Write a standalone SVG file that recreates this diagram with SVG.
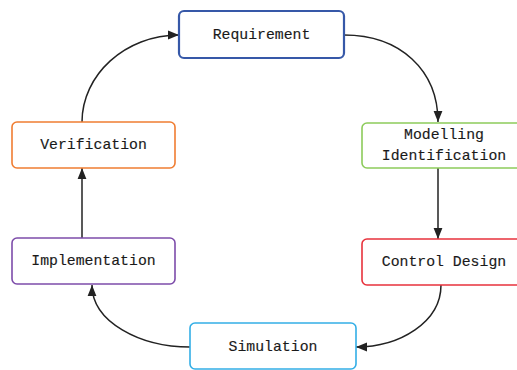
<svg xmlns="http://www.w3.org/2000/svg" width="517" height="370" viewBox="0 0 517 370">
<defs>
<style>
.box{fill:#fff;stroke-width:1.6}
.lbl{font-family:"Liberation Mono","DejaVu Sans Mono",monospace;font-size:14.8px;fill:#1a1a1a;stroke:#1a1a1a;stroke-width:0.15;text-anchor:middle;dominant-baseline:central}
.edge{fill:none;stroke:#222;stroke-width:1.5}
</style>
<marker id="ah" viewBox="0 0 10 10" refX="10" refY="5" markerWidth="11" markerHeight="11" markerUnits="userSpaceOnUse" orient="auto">
<path d="M0,1 L10,5 L0,9 Z" fill="#222"/>
</marker>
</defs>
<rect width="517" height="370" fill="#fff"/>
<g id="connectors">
<path class="edge" d="M344,35 C400,35 438,70 438,122" marker-end="url(#ah)"/>
<path class="edge" d="M438,168 L438,239" marker-end="url(#ah)"/>
<path class="edge" d="M441,285 C441,322 400,347 356,347" marker-end="url(#ah)"/>
<path class="edge" d="M190,347 C140,347 92,322 92,285" marker-end="url(#ah)"/>
<path class="edge" d="M82,238 L82,168" marker-end="url(#ah)"/>
<path class="edge" d="M82,122 C82,75 125,35 179,35" marker-end="url(#ah)"/>
</g>
<g id="requirement">
<rect class="box" x="179" y="11" width="165" height="47" rx="5" stroke="#3658A8" style="stroke-width:2.2"/>
<text class="lbl" x="261.5" y="34.5">Requirement</text>
</g>
<g id="modelling">
<rect class="box" x="362" y="123" width="165" height="45" rx="5" stroke="#8DCB5B"/>
<text class="lbl" x="444" y="135">Modelling</text>
<text class="lbl" x="444" y="156">Identification</text>
</g>
<g id="control">
<rect class="box" x="362" y="239" width="165" height="46" rx="5" stroke="#E8323C"/>
<text class="lbl" x="444" y="262">Control Design</text>
</g>
<g id="simulation">
<rect class="box" x="190" y="323" width="166" height="46" rx="5" stroke="#33AEE6"/>
<text class="lbl" x="273" y="347">Simulation</text>
</g>
<g id="implementation">
<rect class="box" x="12" y="238" width="163" height="46" rx="5" stroke="#7D4CAA"/>
<text class="lbl" x="93.5" y="261">Implementation</text>
</g>
<g id="verification">
<rect class="box" x="12" y="122" width="163" height="46" rx="5" stroke="#F07D32"/>
<text class="lbl" x="93.5" y="145">Verification</text>
</g>
</svg>
